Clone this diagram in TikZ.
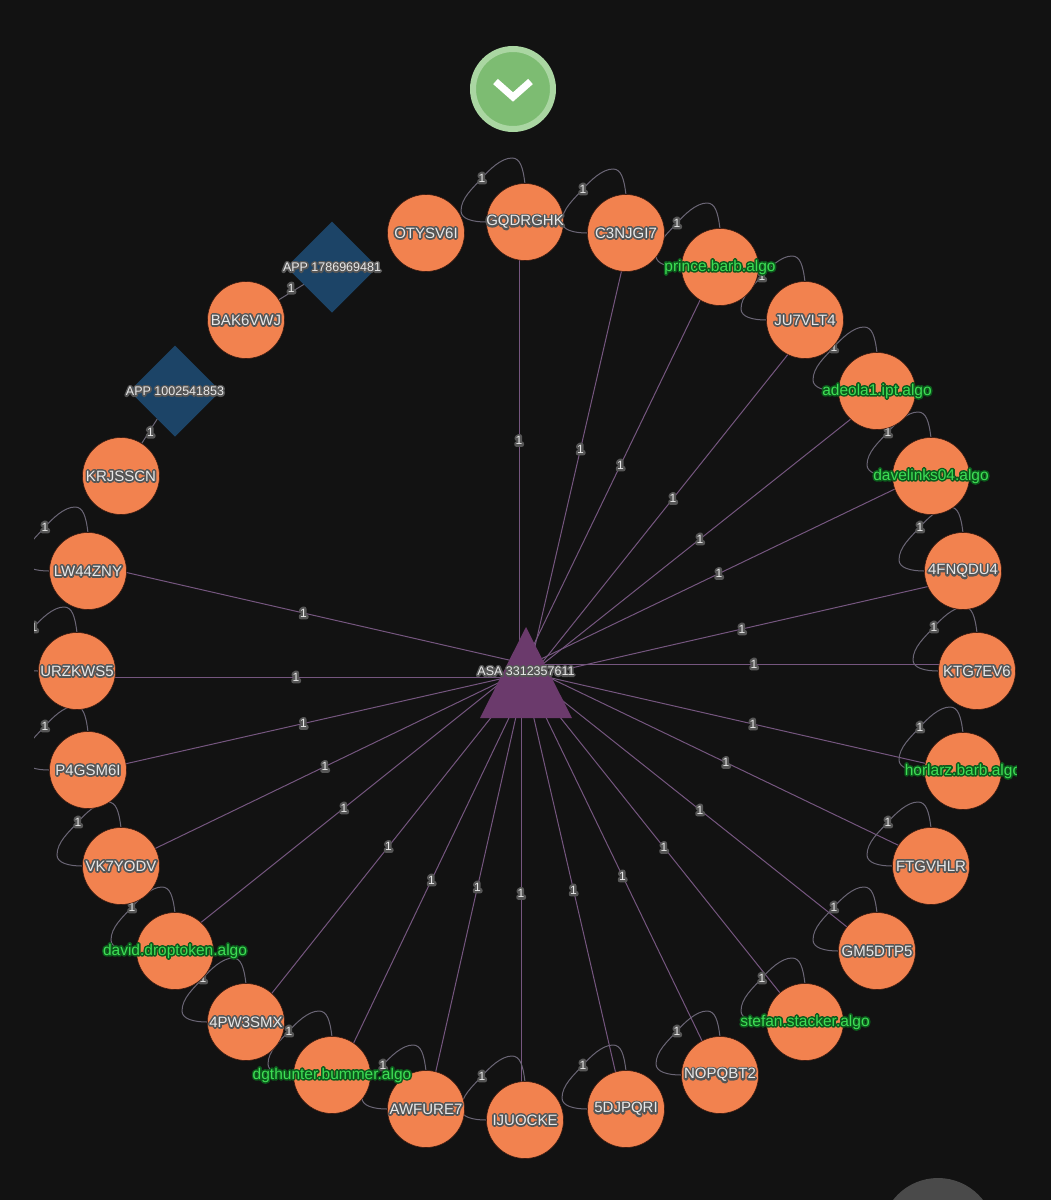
\documentclass[tikz,border=0pt]{standalone}
\usepackage{fontspec}
\setmainfont{Liberation Sans}
\usetikzlibrary{shapes.geometric}
\definecolor{pagebg}{HTML}{121212}
\definecolor{orangefill}{HTML}{F2824F}
\definecolor{orangeedge}{HTML}{3A1A10}
\definecolor{navy}{HTML}{1C4467}
\definecolor{plum}{HTML}{6B3A6C}
\definecolor{spokecol}{HTML}{75567F}
\definecolor{loopcol}{HTML}{6A6575}
\definecolor{btnring}{HTML}{AAD6A2}
\definecolor{btnfill}{HTML}{7DBC72}
\definecolor{halogrey}{HTML}{565656}
\definecolor{textwhite}{HTML}{E8E8E8}
\definecolor{labgreen}{HTML}{3EDE55}
\definecolor{halogreen}{HTML}{0C5A1C}
\definecolor{cornergrey}{HTML}{4A4A4A}
% #1 halo colour, #2 halo stroke width, #3 text colour, #4 text
\newcommand{\halotext}[4]{\makebox[0pt]{%
  \makebox[0pt]{\textcolor{#1}{\special{pdf:code 1 Tr #2 w 1 j 1 J}#4\special{pdf:code 0 Tr 1 w 0 j 0 J}}}%
  \makebox[0pt]{\textcolor{#3}{#4}}}}
\newcommand{\wlab}[1]{\raisebox{-1.5pt}{\fontsize{15}{15}\selectfont\halotext{halogrey}{3.4}{textwhite}{#1}}}
\newcommand{\glab}[1]{\raisebox{-1.5pt}{\fontsize{15.5}{15.5}\selectfont\halotext{halogreen}{3.2}{labgreen}{#1}}}
\newcommand{\slab}[1]{\raisebox{-1pt}{\fontsize{12.5}{12.5}\selectfont\halotext{halogrey}{3.4}{textwhite}{#1}}}
\newcommand{\onelab}{\raisebox{-1pt}{\fontsize{12}{12}\selectfont\halotext{halogrey}{4.6}{textwhite}{1}}}
\tikzset{
  x=1pt,y=-1pt,
  acct/.style={circle,fill=orangefill,draw=orangeedge,line width=.6pt,minimum size=77pt,inner sep=0pt,outer sep=0pt},
  appbox/.style={diamond,fill=navy,minimum width=91pt,minimum height=91pt,inner sep=0pt,outer sep=0pt},
  spoke/.style={draw=spokecol,line width=1pt},
  loopline/.style={draw=loopcol,line width=1pt},
  elab/.style={inner sep=0pt,outer sep=0pt},
}
\pgfdeclarelayer{edges}
\pgfsetlayers{edges,main}
\newcommand{\spokeedge}[3]{\draw[spoke] ([shift={(#2,#3)}]#1.center) -- node[elab] (s#1) {\onelab} ([shift={(#2,#3)}]hub.center);}
\newcommand{\loopedge}[1]{%
  \draw[loopline] ([shift={(0,-38)}]#1.center)
    .. controls ([shift={(-2,-55)}]#1.center) and ([shift={(-5,-64)}]#1.center) .. ([shift={(-13,-64)}]#1.center)
    .. controls ([shift={(-24,-64)}]#1.center) and ([shift={(-36,-52)}]#1.center) .. ([shift={(-43,-44)}]#1.center)
    .. controls ([shift={(-52,-34)}]#1.center) and ([shift={(-64,-24)}]#1.center) .. ([shift={(-64,-11)}]#1.center)
    .. controls ([shift={(-64,-3)}]#1.center) and ([shift={(-52,0)}]#1.center) .. ([shift={(-39,0)}]#1.center);
  \node[elab] (l#1) at ([shift={(-43,-44)}]#1.center) {\onelab};}
\begin{document}
\begin{tikzpicture}
\useasboundingbox (0,0) rectangle (1051,1200);
\begin{pgfonlayer}{edges}
  \fill[pagebg] (0,0) rectangle (1051,1200);
\end{pgfonlayer}
% hub
\fill[plum] (526,627) -- (572,718) -- (480,718) -- cycle;
\coordinate (hub) at (525,671);
% accounts
\node[acct] (otysv) at (426,233) {\wlab{OTYSV6I}};
\node[acct] (gqdrg) at (525,222) {\wlab{GQDRGHK}};
\node[acct] (c3njg) at (626,233) {\wlab{C3NJGI7}};
\node[acct] (prince) at (720,267) {\glab{prince.barb.algo}};
\node[acct] (ju7vl) at (805,320) {\wlab{JU7VLT4}};
\node[acct] (adeola) at (877,391) {\glab{adeola1.ipt.algo}};
\node[acct] (davel) at (931,476) {\glab{davelinks04.algo}};
\node[acct] (fnqdu) at (963,571) {\wlab{4FNQDU4}};
\node[acct] (ktg7e) at (977,671) {\wlab{KTG7EV6}};
\node[acct] (horlarz) at (963,771) {\glab{horlarz.barb.algo}};
\node[acct] (ftgvh) at (931,866) {\wlab{FTGVHLR}};
\node[acct] (gm5dt) at (877,951) {\wlab{GM5DTP5}};
\node[acct] (stefan) at (805,1022) {\glab{stefan.stacker.algo}};
\node[acct] (nopqb) at (720,1075) {\wlab{NOPQBT2}};
\node[acct] (djpqr) at (626,1109) {\wlab{5DJPQRI}};
\node[acct] (ijuoc) at (525,1120) {\wlab{IJUOCKE}};
\node[acct] (awfur) at (426,1109) {\wlab{AWFURE7}};
\node[acct] (dgth) at (332,1075) {\glab{dgthunter.bummer.algo}};
\node[acct] (pw3sm) at (246,1022) {\wlab{4PW3SMX}};
\node[acct] (david) at (175,951) {\glab{david.droptoken.algo}};
\node[acct] (vk7yo) at (121,866) {\wlab{VK7YODV}};
\node[acct] (p4gsm) at (88,770) {\wlab{P4GSM6I}};
\node[acct] (urzkw) at (77,671) {\wlab{URZKWS5}};
\node[acct] (lw44z) at (88,571) {\wlab{LW44ZNY}};
\node[acct] (krjss) at (121,476) {\wlab{KRJSSCN}};
\node[acct] (bak6v) at (246,320) {\wlab{BAK6VWJ}};
\node[appbox] (appa) at (175,391) {\slab{APP 1002541853}};
\node[appbox] (appb) at (332,267) {\slab{APP 1786969481}};
\node[elab] (asa) at (526,671) {\slab{ASA 3312357611}};
% connectors
\begin{pgfonlayer}{edges}
  \spokeedge{gqdrg}{-6}{-6}
  \spokeedge{c3njg}{5}{-3}
  \spokeedge{prince}{-2}{-4}
  \spokeedge{ju7vl}{8}{3}
  \spokeedge{adeola}{-1}{8}
  \spokeedge{davel}{-9}{0}
  \spokeedge{fnqdu}{-2}{8}
  \spokeedge{ktg7e}{3}{-7}
  \spokeedge{horlarz}{9}{3}
  \spokeedge{ftgvh}{-2}{-6}
  \spokeedge{gm5dt}{-1}{-1}
  \spokeedge{stefan}{-1}{1}
  \spokeedge{nopqb}{0}{3}
  \spokeedge{djpqr}{-2}{0}
  \spokeedge{ijuoc}{-4}{-2}
  \spokeedge{awfur}{2}{-3}
  \spokeedge{dgth}{3}{7}
  \spokeedge{pw3sm}{3}{0}
  \spokeedge{david}{-6}{-3}
  \spokeedge{vk7yo}{2}{-2}
  \spokeedge{p4gsm}{-3}{3}
  \spokeedge{urzkw}{-5}{6}
  \spokeedge{lw44z}{-3}{-8}
  \loopedge{gqdrg}\loopedge{c3njg}\loopedge{prince}\loopedge{ju7vl}
  \loopedge{adeola}\loopedge{davel}\loopedge{fnqdu}\loopedge{ktg7e}
  \loopedge{horlarz}\loopedge{ftgvh}\loopedge{gm5dt}\loopedge{stefan}
  \loopedge{nopqb}\loopedge{djpqr}\loopedge{ijuoc}\loopedge{awfur}
  \loopedge{dgth}\loopedge{pw3sm}\loopedge{david}\loopedge{vk7yo}
  \loopedge{p4gsm}\loopedge{urzkw}\loopedge{lw44z}
  \draw[loopline] (krjss) -- node[elab,xshift=1pt,yshift=-1pt] (skrj) {\onelab} (appa);
  \draw[loopline] (bak6v) -- node[elab,yshift=4pt] (sbak) {\onelab} (appb);
\end{pgfonlayer}
% side strips that clip the graph view
\fill[pagebg] (0,0) rectangle (33.5,1200);
\fill[pagebg] (1017,0) rectangle (1051,1200);
% button
\node[circle,fill=btnfill,draw=btnring,line width=6pt,minimum size=80pt,inner sep=0pt] (btn) at (513,89) {};
\draw[white,line width=7pt] (495.5,81.5) -- (513,97) -- (530.5,81.5);
% corner button
\begin{scope}
  \clip (0,0) rectangle (1051,1200);
  \fill[cornergrey] (938,1235) circle (57);
\end{scope}
\end{tikzpicture}
\end{document}
